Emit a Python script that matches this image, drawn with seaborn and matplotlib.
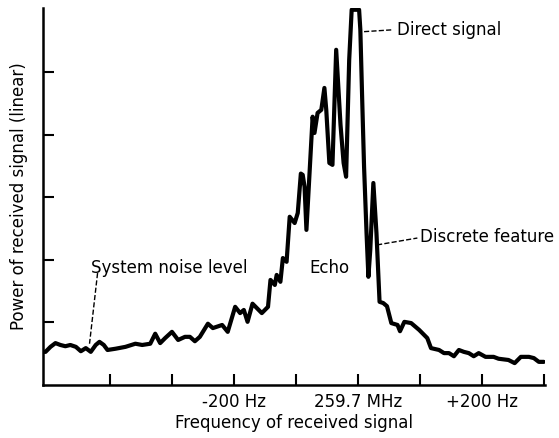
import pandas as pd
import matplotlib.pyplot as plt
import seaborn as sns

# frequency offset from 259.7 MHz (Hz) and received power (linear, arbitrary units)
freq = [-508, -504, -496, -488, -480, -472, -464, -455, -447, -439, -431, -423,
        -417, -410, -404, -391, -375, -359, -348, -335, -327, -319, -311, -300,
        -290, -279, -271, -263, -255, -242, -234, -219, -210, -198, -190, -184,
        -178, -170, -163, -155, -145, -141, -134, -131, -125, -121, -115, -110,
        -102, -97, -92, -89, -86, -83, -73, -70, -65, -59, -54, -51, -46, -41,
        -35, -28, -23, -19, -14, -10, 2, 4, 7, 10, 14, 17, 20, 25, 30, 35, 41,
        47, 54, 64, 68, 75, 86, 99, 112, 118, 131, 139, 147, 155, 163, 171, 179,
        187, 195, 206, 219, 227, 243, 253, 263, 276, 284, 292, 300]
power = [0.53, 0.53, 0.61, 0.67, 0.64, 0.62, 0.64, 0.61, 0.54, 0.59, 0.53, 0.64,
         0.69, 0.64, 0.56, 0.58, 0.61, 0.66, 0.64, 0.66, 0.82, 0.67, 0.75, 0.85,
         0.72, 0.77, 0.77, 0.70, 0.77, 0.98, 0.91, 0.96, 0.85, 1.25, 1.15, 1.20,
         1.01, 1.30, 1.23, 1.15, 1.25, 1.68, 1.60, 1.76, 1.65, 2.03, 1.97, 2.69,
         2.59, 2.75, 3.38, 3.36, 3.17, 2.48, 4.29, 4.03, 4.35, 4.40, 4.75, 4.40,
         3.55, 3.52, 5.36, 4.16, 3.55, 3.33, 5.20, 6.00, 6.00, 5.68, 4.56, 3.49,
         2.43, 1.73, 2.16, 3.23, 2.43, 1.33, 1.31, 1.26, 0.99, 0.96, 0.86, 1.01,
         0.99, 0.88, 0.75, 0.59, 0.56, 0.51, 0.51, 0.46, 0.56, 0.53, 0.51, 0.46,
         0.51, 0.45, 0.45, 0.42, 0.40, 0.35, 0.45, 0.45, 0.43, 0.37, 0.37]

xtick_pos = [-400, -300, -200, -100, 0, 100, 200, 300]
xtick_labels = ["", "", "-200 Hz", "", "259.7 MHz", "", "+200 Hz", ""]

df = pd.DataFrame({"freq": freq, "power": power})

sns.set_style("ticks")
plt.rcParams["font.family"] = ["DejaVu Sans"]
plt.rcParams["text.color"] = "black"
plt.rcParams["axes.labelcolor"] = "black"

fig = plt.figure(figsize=(5.59, 4.38), dpi=100)
ax = fig.add_axes([0.077, 0.121, 0.898, 0.861])

sns.lineplot(data=df, x="freq", y="power", color="black", linewidth=3.0,
             sort=False, ax=ax)

ax.set_xlim(-508, 302)
ax.set_ylim(0, 6.03)
ax.set_xticks(xtick_pos)
ax.set_xticklabels(xtick_labels, fontsize=12)
ax.set_yticks([1, 2, 3, 4, 5])
ax.set_yticklabels([])
ax.tick_params(direction="in", length=8, width=1.5, colors="black", pad=6)
for s in ["top", "right"]:
    ax.spines[s].set_visible(False)
for s in ["left", "bottom"]:
    ax.spines[s].set_linewidth(1.8)
    ax.spines[s].set_color("black")

ax.set_xlabel("Frequency of received signal", fontsize=12, labelpad=2)
ax.set_ylabel("Power of received signal (linear)", fontsize=12, labelpad=5)

# annotations
ax.plot([10, 57], [5.65, 5.68], ls="--", color="black", lw=1)
ax.text(63, 5.68, "Direct signal", fontsize=12, va="center", ha="left")
ax.plot([31, 96], [2.24, 2.35], ls="--", color="black", lw=1)
ax.text(101, 2.37, "Discrete feature", fontsize=12, va="center", ha="left")
ax.plot([-420, -433], [1.79, 0.66], ls="--", color="black", lw=1)
ax.text(-430, 1.87, "System noise level", fontsize=12, va="center", ha="left")
ax.text(-78, 1.87, "Echo", fontsize=12, va="center", ha="left")

plt.savefig("out.png", dpi=100)
